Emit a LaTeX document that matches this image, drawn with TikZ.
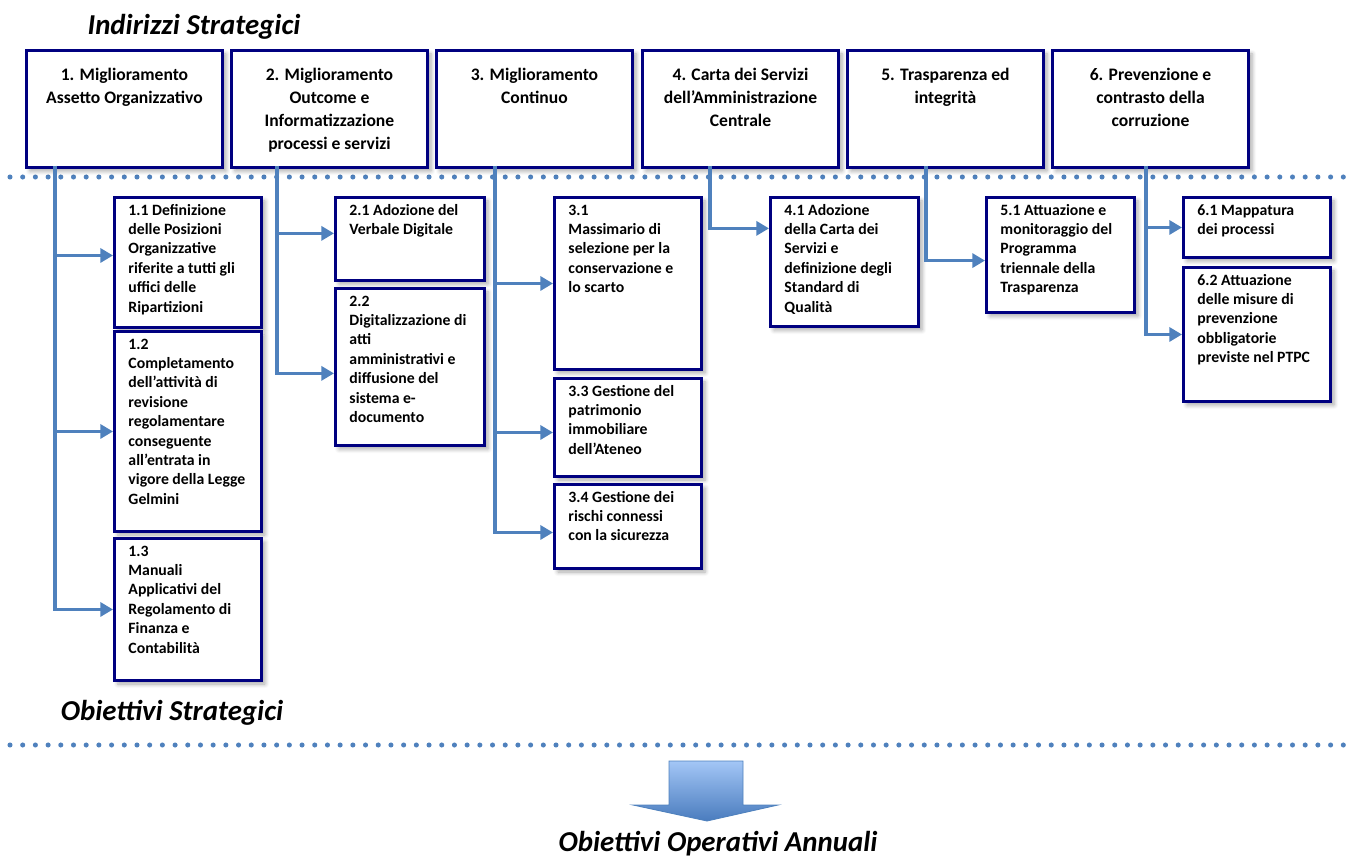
\documentclass[tikz,border=0pt]{standalone}
\usepackage{fontspec}
\setmainfont{Carlito}
\usepackage{xcolor}
\usepackage{tikz}
\usetikzlibrary{arrows.meta,shadows.blur}
\definecolor{boxnavy}{HTML}{000080}
\definecolor{linkblue}{HTML}{4F81BD}
\definecolor{arrowtop}{HTML}{A3C6F6}
\definecolor{arrowbot}{HTML}{4A7CBE}
\newlength{\pxu}\setlength{\pxu}{0.025cm}
\newcommand{\headtext}[1]{\parbox[c][117\pxu][t]{196\pxu}{\centering
  \fontsize{12.5}{16.4}\selectfont\bfseries\vspace*{14\pxu}\strut#1}}
\newcommand{\kidtext}[3]{\parbox[c][#2\pxu][t]{#1\pxu}{\raggedright\leftskip=14\pxu
  \fontsize{11.2}{13.8}\selectfont\bfseries\vspace*{4\pxu}\strut#3}}

\begin{document}
\begin{tikzpicture}[x=0.025cm, y=-0.025cm,
          boxbase/.style={draw=boxnavy, line width=2.1pt, fill=white, inner sep=0pt,
                          anchor=north west,
                          blur shadow={shadow xshift=2.5pt, shadow yshift=-2.5pt,
                                       shadow opacity=35, shadow blur radius=3pt}},
          headbox/.style={boxbase},
          kidbox/.style={boxbase},
          link/.style={draw=linkblue, line width=2.2pt,
                       -{Triangle[length=9pt, width=10pt]}},
          dotline/.style={draw=linkblue, line width=3.6pt, line cap=round,
                          dash pattern=on 0pt off 9.03pt},
          title/.style={anchor=base, font=\fontsize{20.5}{24}\selectfont\bfseries\itshape}
        ]
        \useasboundingbox (0,0) rectangle (1346,859);

        % separators
        \draw[dotline] (10,177) -- (1346,177);
        \draw[dotline] (10,745) -- (1346,745);

        % titles
        \node[title] (indirizzi) at (194,35) {Indirizzi Strategici};
        \node[title] (obstrat) at (172,720) {Obiettivi Strategici};
        \node[title] (oboper) at (718,851) {Obiettivi Operativi Annuali};

        % indirizzi
        \node[headbox] (top1) at (25,49) {\headtext{1. Miglioramento\\Assetto Organizzativo}};
        \node[headbox] (top2) at (230,49) {\headtext{2. Miglioramento\\Outcome e\\Informatizzazione\\processi e servizi}};
        \node[headbox] (top3) at (435,49) {\headtext{3. Miglioramento\\Continuo}};
        \node[headbox] (top4) at (641,49) {\headtext{4. Carta dei Servizi\\dell’Amministrazione\\Centrale}};
        \node[headbox] (top5) at (846,49) {\headtext{5. Trasparenza ed\\integrità}};
        \node[headbox] (top6) at (1051,49) {\headtext{6. Prevenzione e\\contrasto della\\corruzione}};

        % obiettivi
        \node[kidbox] (b11) at (113,196) {\kidtext{147}{130}{1.1 Definizione\\delle Posizioni\\Organizzative\\riferite a tutti gli\\uffici delle\\Ripartizioni}};
        \node[kidbox] (b12) at (113,330) {\kidtext{147}{200}{1.2\\Completamento\\dell’attività di\\revisione\\regolamentare\\conseguente\\all’entrata in\\vigore della Legge\\Gelmini}};
        \node[kidbox] (b13) at (113,537) {\kidtext{147}{142}{1.3\\Manuali\\Applicativi del\\Regolamento di\\Finanza e\\Contabilità}};
        \node[kidbox] (b21) at (334,196) {\kidtext{149}{83}{2.1 Adozione del\\Verbale Digitale}};
        \node[kidbox] (b22) at (334,287) {\kidtext{149}{157}{2.2\\Digitalizzazione di\\atti\\amministrativi e\\diffusione del\\sistema e-\\documento}};
        \node[kidbox] (b31) at (553,196) {\kidtext{147}{172}{3.1\\Massimario di\\selezione per la\\conservazione e\\lo scarto}};
        \node[kidbox] (b33) at (553,377) {\kidtext{147}{98}{3.3 Gestione del\\patrimonio\\immobiliare\\dell’Ateneo}};
        \node[kidbox] (b34) at (553,483) {\kidtext{147}{84}{3.4 Gestione dei\\rischi connessi\\con la sicurezza}};
        \node[kidbox] (b41) at (769,196) {\kidtext{148}{129}{4.1 Adozione\\della Carta dei\\Servizi e\\definizione degli\\Standard di\\Qualità}};
        \node[kidbox] (b51) at (985,196) {\kidtext{148}{115}{5.1 Attuazione e\\monitoraggio del\\Programma\\triennale della\\Trasparenza}};
        \node[kidbox] (b61) at (1182,196) {\kidtext{147}{60}{6.1 Mappatura\\dei processi}};
        \node[kidbox] (b62) at (1182,266) {\kidtext{147}{134}{6.2 Attuazione\\delle misure di\\prevenzione\\obbligatorie\\previste nel PTPC}};

        % trunks
        \coordinate (s1) at (55,166);
        \coordinate (s2) at (277,166);
        \coordinate (s3) at (495,166);
        \coordinate (s4) at (710,166);
        \coordinate (s5) at (926,166);
        \coordinate (s6) at (1146,166);

        \draw[link] (s1) |- ([yshift=0.175cm]b11.west);
        \draw[link] (s1) |- (b12.west);
        \draw[link] (s1) |- (b13.west);
        \draw[link] (s2) |- ([yshift=0.14cm]b21.west);
        \draw[link] (s2) |- ([yshift=-0.16cm]b22.west);
        \draw[link] (s3) |- (b31.west);
        \draw[link] (s3) |- ([yshift=-0.125cm]b33.west);
        \draw[link] (s3) |- ([yshift=-0.15cm]b34.west);
        \draw[link] (s4) |- ([yshift=0.84cm]b41.west);
        \draw[link] (s5) |- ([yshift=-0.14cm]b51.west);
        \draw[link] (s6) |- (b61.west);
        \draw[link] (s6) |- (b62.west);

        % freccia verso gli obiettivi operativi
        \draw[draw=linkblue, line width=0.6pt, top color=arrowtop, bottom color=arrowbot]
          (669,761) -- (743,761) -- (743,805) -- (778,805) -- (707,821)
          -- (633,805) -- (669,805) -- cycle;
      \end{tikzpicture}
\end{document}
